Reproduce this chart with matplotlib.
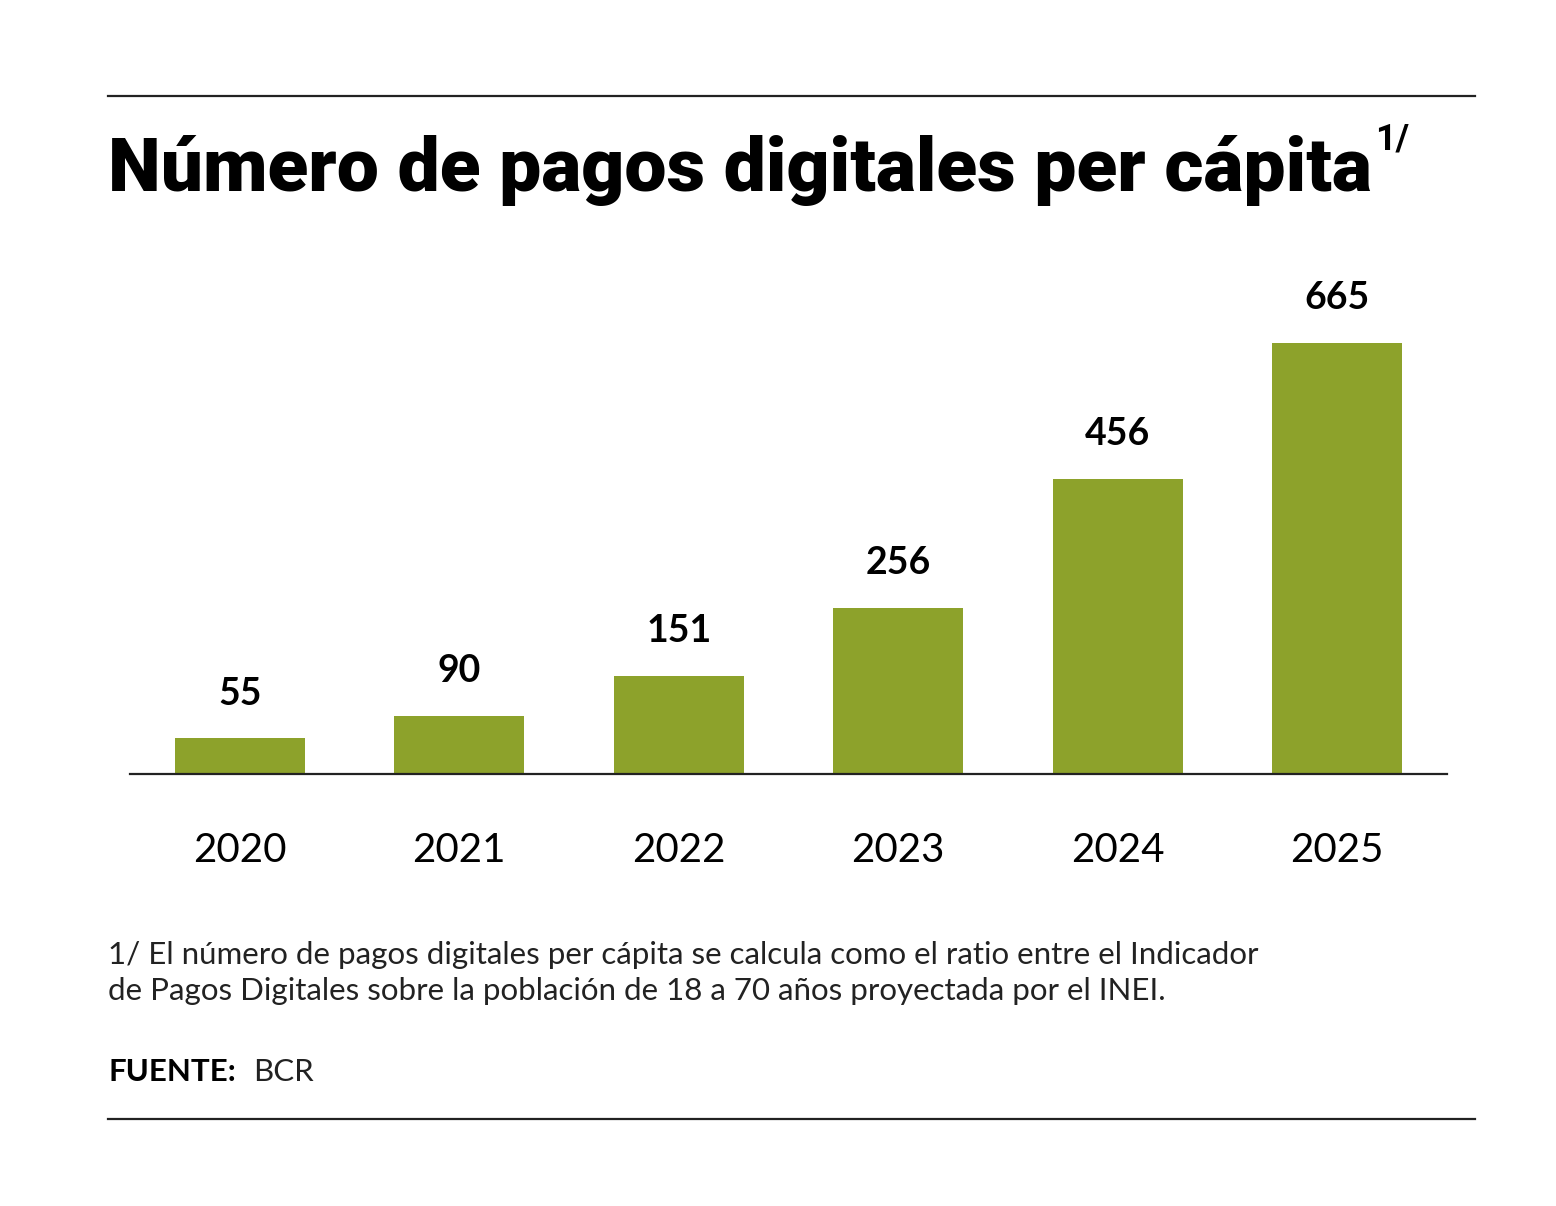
import matplotlib
matplotlib.use("Agg")
import matplotlib.pyplot as plt
from matplotlib.lines import Line2D

years = ["2020", "2021", "2022", "2023", "2024", "2025"]
values = [55, 90, 151, 256, 456, 665]
title = "Número de pagos digitales per cápita"
note = ("1/ El número de pagos digitales per cápita se calcula como el ratio entre el Indicador\n"
        "de Pagos Digitales sobre la población de 18 a 70 años proyectada por el INEI.")

W, H = 1556, 1206
fig = plt.figure(figsize=(W/100, H/100), dpi=100)
fig.patch.set_facecolor("white")
plt.rcParams['font.family'] = ['Lato', 'DejaVu Sans']

def fy(p): return 1 - p / H
def fx(p): return p / W

for y in (96, 1119):
    fig.add_artist(Line2D([fx(108), fx(1475)], [fy(y), fy(y)], color="#222222", lw=1.6))

t = fig.text(fx(108), fy(191), title, fontsize=54, fontweight="heavy", color="black",
             family=["Roboto", "DejaVu Sans"], va="baseline", ha="left")
fig.canvas.draw()
bb = t.get_window_extent()
fig.text(bb.x1 / W + 0.002, fy(150), "1/", fontsize=26, fontweight="bold",
         family=["Roboto", "DejaVu Sans"], va="baseline", ha="left")

ax = fig.add_axes([fx(130), fy(774), fx(1317), 700*0.648/H])
x = range(len(years))
ax.bar(x, values, width=0.59, color="#8da22b")
ax.set_xlim(-0.5, 5.5)
ax.set_ylim(0, 700)
for i, v in zip(x, values):
    ax.annotate(str(v), (i, v), xytext=(0, 20), textcoords="offset points",
                ha="center", va="bottom", fontsize=27, fontweight="bold")
for s in ("top", "right", "left"):
    ax.spines[s].set_visible(False)
ax.spines["bottom"].set_linewidth(1.6)
ax.spines["bottom"].set_color("#222222")
ax.set_yticks([])
ax.set_xticks(list(x))
ax.set_xticklabels(years, fontsize=29)
ax.tick_params(axis="x", length=0, pad=42)

fig.text(fx(108), fy(973), note, fontsize=22.5, color="#222222", va="center",
         ha="left", linespacing=1.35)
fig.text(fx(108), fy(1072), "FUENTE:", fontsize=22.5, fontweight="bold", va="center", ha="left")
fig.text(fx(253), fy(1072), "BCR", fontsize=22.5, va="center", ha="left", color="#222222")

fig.savefig("out.png", dpi=100, facecolor="white")
